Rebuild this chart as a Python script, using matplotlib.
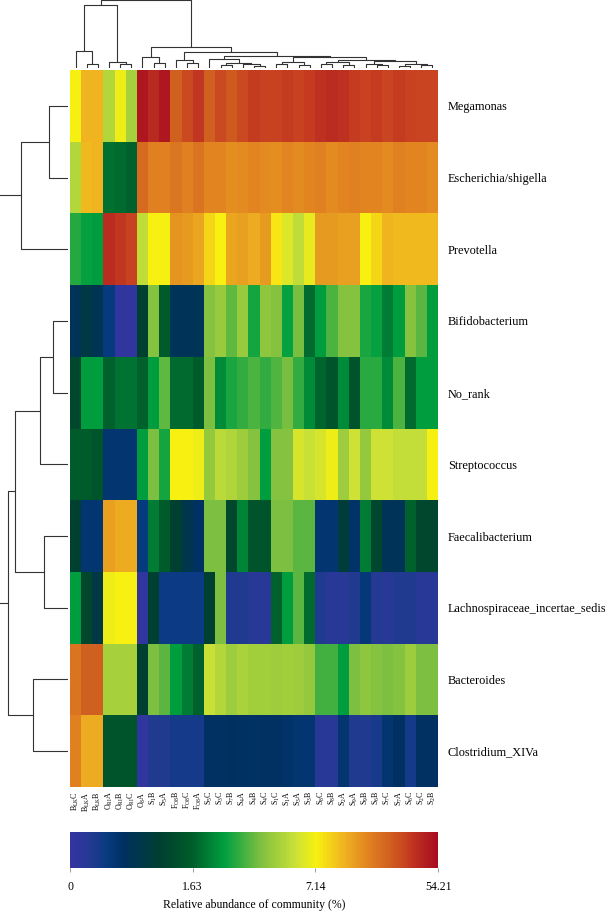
import numpy as np
import matplotlib
matplotlib.use("Agg")
import matplotlib.pyplot as plt
from matplotlib.colors import LinearSegmentedColormap, FuncNorm

plt.rcParams["font.family"] = ["Liberation Serif", "DejaVu Serif"]
plt.rcParams["mathtext.fontset"] = "custom"
plt.rcParams["mathtext.rm"] = "Liberation Serif"

# --- data -------------------------------------------------------------
genera = ["Megamonas", "Escherichia/shigella", "Prevotella", "Bifidobacterium",
          "No_rank", "Streptococcus", "Faecalibacterium",
          "Lachnospiraceae_incertae_sedis", "Bacteroides", "Clostridium_XIVa"]

samples = ["B_{LK}C", "B_{LK}A", "B_{LK}B", "O_{RI}A", "O_{RI}B", "O_{RI}C",
           "O_{8}A", "S_{1}B", "S_{5}A", "F_{O8}B", "F_{O8}C", "F_{O8}A",
           "S_{5}C", "S_{3}C", "S_{7}B", "S_{4}A", "S_{4}B", "S_{4}C",
           "S_{1}C", "S_{1}A", "S_{3}A", "S_{3}B", "S_{8}C", "S_{8}B",
           "S_{2}A", "S_{9}A", "S_{9}B", "S_{6}B", "S_{7}C", "S_{7}A",
           "S_{6}C", "S_{2}C", "S_{2}B"]

# relative abundance (%) per genus, one value per sample
megamonas = [7.3, 18, 18, 5.8, 7.0, 5.5, 51, 47, 51, 36, 40, 44, 36, 40, 37, 40, 43,
             42, 42, 43, 42, 43, 45, 46, 45, 43, 42, 43, 41, 43, 42, 41, 41]
escherichia = [5.8, 17, 18, 2.0, 1.9, 1.7, 33, 28, 28, 30, 28, 31, 27, 27, 25, 26, 27,
               26, 25, 27, 26, 27, 28, 26, 27, 28, 27, 27, 26, 28, 27, 27, 26]
prevotella = [3.5, 3.1, 3.0, 46, 44, 42, 6.0, 7.5, 7.3, 24, 23, 21, 12, 7.6, 21, 22, 20,
              23, 9.0, 6.6, 6.0, 6.8, 23, 23, 22, 22, 7.6, 12, 18, 17, 17, 17, 17]
bifidobacterium = [0.8, 1.0, 0.85, 0.5, 0.05, 0.05, 1.2, 4.8, 1.6, 0.8, 0.8, 0.8, 4.8,
                   5.2, 4.3, 5.2, 3.3, 5.0, 4.8, 3.1, 4.6, 1.9, 3.0, 4.0, 4.8, 4.8,
                   3.4, 3.1, 2.3, 3.0, 4.8, 4.2, 3.0]
no_rank = [1.3, 3.0, 3.0, 1.7, 2.1, 2.1, 1.7, 3.0, 4.3, 1.9, 1.9, 1.6, 4.7, 2.6, 3.4,
           3.7, 4.0, 3.7, 4.1, 4.6, 3.7, 2.6, 1.8, 1.5, 2.6, 1.5, 3.6, 3.6, 2.6, 4.0,
           1.9, 3.0, 3.0]
streptococcus = [1.6, 1.6, 1.5, 0.6, 0.6, 0.6, 3.0, 4.7, 3.3, 7.5, 7.4, 7.0, 5.1, 5.9,
                 5.7, 5.3, 4.8, 3.0, 4.8, 4.8, 6.5, 6.2, 6.5, 7.0, 5.3, 6.3, 5.1, 6.3,
                 6.3, 6.1, 6.1, 6.1, 7.2]
faecalibacterium = [1.2, 0.6, 0.6, 22, 20, 20, 0.5, 2.3, 1.6, 1.2, 0.9, 0.7, 4.7, 4.7,
                    1.3, 2.5, 1.5, 1.5, 4.7, 4.7, 4.2, 4.2, 0.6, 0.6, 1.1, 0.65, 2.3,
                    1.3, 0.8, 0.8, 1.7, 1.3, 1.3]
lachnospiraceae = [3.0, 1.3, 1.0, 7.0, 7.6, 7.8, 0.05, 1.2, 0.45, 0.45, 0.45, 0.45, 1.2,
                   4.7, 0.3, 0.3, 0.2, 0.2, 1.7, 3.0, 4.2, 1.9, 0.3, 0.2, 0.2, 0.3,
                   0.55, 0.25, 0.2, 0.3, 0.3, 0.2, 0.2]
bacteroides = [31, 36, 36, 5.5, 5.5, 5.5, 1.2, 4.7, 4.2, 3.0, 2.3, 1.7, 6.2, 5.8, 5.3,
               5.6, 5.4, 5.4, 5.3, 5.4, 5.3, 5.1, 3.9, 3.9, 3.0, 4.7, 5.0, 4.8, 4.7,
               4.8, 5.3, 4.7, 4.7]
clostridium = [28, 20, 20, 1.5, 1.5, 1.5, 0.05, 0.3, 0.3, 0.4, 0.4, 0.4, 0.7, 0.7, 0.72,
               0.7, 0.68, 0.7, 0.7, 0.65, 0.6, 0.6, 0.2, 0.2, 0.6, 0.3, 0.3, 0.35, 0.6,
               0.7, 0.4, 0.7, 0.7]

# colour scale breaks shown on the colour bar
scale_ticks = [0, 1.63, 7.14, 54.21]

# dendrograms as (left, right, height); leaves are row / column indices
row_tree = (((0, 1, 19), 2, 47.3),
            (((((3, 4, 15.3), 5, 28), (6, 7, 23.7), 53), (8, 9, 34.7), 59.7)),
            90)
col_tree = (((0, (1, 2, 3.7), 17), (3, (4, 5, 3.7), 5.7), 63.7),
            ((6, (7, 8, 4.7), 10.7),
             ((9, (10, 11, 4.7), 7.7),
              ((12, ((13, 14, 3.5), (15, (16, 17, 2.5), 4), 5.5), 9),
               (((18, 19, 4), (20, 21, 3), 6.5),
                (((22, 23, 4), (24, 25, 3), 6),
                 ((26, (27, 28, 3), 4.5), ((29, 30, 2.5), (31, 32, 3), 4), 7), 8.5),
                10.7), 12.3), 16.3), 21.3),
            68)

abundance = np.array([megamonas, escherichia, prevotella, bifidobacterium, no_rank,
                      streptococcus, faecalibacterium, lachnospiraceae, bacteroides,
                      clostridium])

# --- colour map / norm ------------------------------------------------
cmap = LinearSegmentedColormap.from_list("abund", [
    (0.00, "#3434a0"), (0.06, "#203a90"), (0.10, "#063a80"), (0.145, "#003060"),
    (0.245, "#00402f"), (0.33, "#005c2a"), (0.42, "#00a040"), (0.52, "#80c040"),
    (0.61, "#c8e038"), (0.67, "#f8f010"), (0.74, "#f0b820"), (0.815, "#e08020"),
    (0.87, "#d06020"), (0.915, "#c84020"), (0.95, "#b82820"), (1.00, "#a80c20")])

pos = np.linspace(0, 1, len(scale_ticks))
norm = FuncNorm((lambda v: np.interp(v, scale_ticks, pos),
                 lambda p: np.interp(p, pos, scale_ticks)),
                vmin=scale_ticks[0], vmax=scale_ticks[-1])


def draw_tree(ax, node, side):
    """Draw a dendrogram node; returns (leaf position, height)."""
    if isinstance(node, int):
        return node + 0.5, 0.0
    a, b, h = node
    xa, ha = draw_tree(ax, a, side)
    xb, hb = draw_tree(ax, b, side)
    p, q = [xa, xa, xb, xb], [ha, h, h, hb]
    if side == "top":
        ax.plot(p, q, color="#333333", lw=0.8, solid_capstyle="butt")
    else:
        ax.plot(q, p, color="#333333", lw=0.8, solid_capstyle="butt")
    return (xa + xb) / 2, h


W, H = 609, 924
fig = plt.figure(figsize=(W / 100, H / 100), dpi=100)


def px_axes(x0, y0, x1, y1):
    return fig.add_axes([x0 / W, 1 - y1 / H, (x1 - x0) / W, (y1 - y0) / H])


# heatmap
ax = px_axes(70, 70, 438, 787)
nr, nc = abundance.shape
mesh = ax.pcolormesh(np.arange(nc + 1), np.arange(nr + 1), abundance,
                     cmap=cmap, norm=norm)
ax.set_xlim(0, nc)
ax.set_ylim(nr, 0)
ax.set_xticks(np.arange(nc) + 0.5)
ax.set_xticklabels([f"$\\mathrm{{{s}}}$" for s in samples], rotation=90, fontsize=5.7)
ax.yaxis.tick_right()
ax.set_yticks(np.arange(nr) + 0.5)
ax.set_yticklabels(genera, fontsize=8.8)
ax.tick_params(length=0, pad=3)
ax.tick_params(axis="y", pad=7)
for s in ax.spines.values():
    s.set_visible(False)

# column dendrogram
axc = px_axes(70, 0, 438, 68)
draw_tree(axc, col_tree, "top")
axc.set_xlim(0, nc)
axc.set_ylim(0, 68.5)
axc.axis("off")

# row dendrogram
axr = px_axes(0, 70, 68, 787)
draw_tree(axr, row_tree, "left")
axr.set_ylim(nr, 0)
axr.set_xlim(68, 0)
axr.axis("off")

# colour bar
cax = px_axes(70, 832, 438, 868)
cbar = fig.colorbar(mesh, cax=cax, orientation="horizontal")
cbar.set_ticks(scale_ticks)
cbar.set_ticklabels(["0", "1.63", "7.14", "54.21"])
cbar.outline.set_visible(False)
cax.tick_params(length=3, width=0.6, color="#888888", labelsize=8.5, pad=6)
cbar.set_label("Relative abundance of community (%)", fontsize=8.5, labelpad=5)

fig.savefig("out.png", dpi=100)
